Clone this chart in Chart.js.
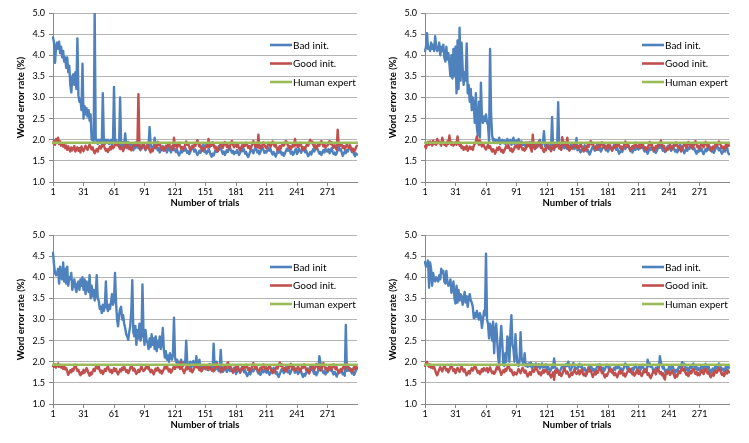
<!DOCTYPE html>
<html>
<head>
<meta charset="utf-8">
<title>Word error rate vs number of trials</title>
<script src="https://cdn.jsdelivr.net/npm/chart.js@4.4.1/dist/chart.umd.min.js"></script>
<style>
  html, body { margin: 0; padding: 0; background: #fff; overflow: hidden; }
  #wrap { position: relative; width: 749px; height: 443px; }
  .panel { position: absolute; width: 374px; height: 221px; }
</style>
</head>
<body>
<div id="wrap">
  <div class="panel" style="left:0;top:0"><canvas id="c1" width="374" height="221"></canvas></div>
  <div class="panel" style="left:372px;top:0"><canvas id="c2" width="374" height="221"></canvas></div>
  <div class="panel" style="left:0;top:222px"><canvas id="c3" width="374" height="221"></canvas></div>
  <div class="panel" style="left:372px;top:222px"><canvas id="c4" width="374" height="221"></canvas></div>
</div>
<script>
// categories: trial numbers 1..300, a label every 30 trials
const trialCount = 300;
const labelEvery = 30;
const trials = Array.from({ length: trialCount }, (_, i) => String(i + 1));
const yMin = 1.0, yMax = 5.0, yStep = 0.5;

// human expert reference level (%)
const humanExpert = 1.93;

// top-left panel
const bad1 = [
  4.42,4.3,3.82,4.2,4.3,4.15,4.32,4.05,4.2,3.95,4.1,3.85,3.95,3.7,3.95,3.6,3.75,3.3,3.12,3.5,3.55,3.3,3.6,3.2,4.4,3.05,2.9,2.95,2.7,3.8,
  2.5,2.8,2.6,2.75,2.55,2.7,2.45,2.6,2.0,2.05,1.95,5.0,2.05,1.95,1.9,2.0,1.95,2.0,1.9,3.1,1.95,1.9,2.0,1.95,2.0,1.9,1.95,2.0,1.85,1.95,
  3.25,1.95,2.0,1.9,1.95,1.85,3.0,1.9,1.8,1.95,1.85,2.15,1.9,1.8,1.95,1.85,1.8,1.9,1.85,1.75,1.9,1.8,1.95,1.85,1.8,1.9,1.75,1.85,1.8,1.9,
  1.85,1.75,1.8,1.9,1.85,2.3,1.9,1.8,1.75,1.85,2.05,1.8,1.85,1.75,1.8,1.7,1.8,1.75,1.85,1.8,1.75,1.8,1.7,1.85,1.75,1.8,1.7,1.78,1.85,1.75,
  1.78,1.71,1.76,1.68,1.63,1.69,1.75,1.7,1.79,1.74,1.81,1.76,1.69,1.73,1.66,1.71,1.78,1.85,1.79,1.72,1.77,1.7,1.64,1.68,1.74,1.69,1.76,1.82,1.9,1.71,
  1.74,1.67,1.71,1.78,1.73,1.65,1.6,1.67,1.63,1.7,1.76,1.71,1.79,1.85,1.77,1.81,1.73,1.67,1.72,1.64,1.69,1.76,1.71,1.78,1.82,1.75,1.69,1.74,1.66,1.71,
  1.69,1.76,1.7,1.64,1.69,1.77,1.73,1.81,1.75,1.67,1.71,1.63,1.59,1.66,1.72,1.78,1.74,1.68,1.75,1.82,1.77,1.7,1.74,1.66,1.71,1.79,1.84,1.76,1.69,1.73,
  1.7,1.76,1.81,1.74,1.78,1.7,1.65,1.71,1.66,1.6,1.67,1.74,1.69,1.76,1.72,1.65,1.69,1.62,1.67,1.73,1.79,1.74,1.8,1.73,1.67,1.72,1.64,1.68,1.75,1.79,
  1.66,1.72,1.79,1.74,1.69,1.76,1.82,1.76,1.7,1.75,1.67,1.61,1.66,1.71,1.65,1.73,1.78,1.72,1.77,1.83,1.79,1.73,1.67,1.71,1.64,1.69,1.76,1.7,1.78,1.73,
  1.72,1.78,1.68,1.74,1.8,1.72,1.66,1.7,1.64,1.68,1.76,1.83,1.75,1.78,1.7,1.62,1.67,1.73,1.68,1.76,1.72,1.8,1.86,1.78,1.71,1.74,1.66,1.61,1.68,1.65
];
const good1 = [
  1.92,1.98,1.88,2.02,1.95,2.05,1.9,1.96,1.86,1.92,1.84,1.9,1.8,1.86,1.76,1.84,1.78,1.72,1.82,1.75,1.8,1.85,1.72,1.78,1.82,1.74,1.8,1.7,1.84,1.78,
  1.73,1.79,1.86,1.81,1.76,1.83,1.89,1.83,1.77,1.82,1.74,1.68,1.73,1.78,1.72,1.8,1.85,1.79,1.84,1.9,1.86,1.8,1.74,1.78,1.71,1.76,1.83,1.77,1.85,1.8,
  1.83,1.89,1.94,1.87,1.91,1.83,1.78,1.84,1.79,1.73,1.8,1.87,1.82,1.89,1.85,1.78,1.82,1.75,1.8,1.86,1.92,1.87,1.93,1.86,3.08,1.85,1.77,1.81,1.88,1.92,
  1.84,1.77,1.81,1.88,1.83,1.75,1.7,1.77,1.73,1.8,1.86,1.81,1.89,1.95,1.87,1.91,1.83,1.77,1.82,1.74,1.79,1.86,1.81,1.88,1.92,1.85,1.79,1.84,1.76,2.05,
  1.85,1.91,1.81,1.87,1.93,1.85,1.79,1.83,1.77,1.81,1.89,1.96,1.88,1.91,1.83,1.75,1.8,1.86,1.81,1.89,1.85,1.93,1.99,1.91,1.84,1.87,1.79,1.74,1.81,1.78,
  1.82,1.89,1.83,2.02,1.82,1.9,1.86,1.94,1.88,1.8,1.84,1.76,1.72,1.79,1.85,1.91,1.87,1.81,1.88,1.95,1.9,1.83,1.87,1.79,1.84,1.92,1.97,1.89,1.82,1.86,
  1.9,1.83,1.88,1.8,1.75,1.81,1.87,1.82,1.91,1.86,1.93,1.88,1.81,1.85,1.78,1.83,1.9,1.97,1.91,1.84,1.89,1.82,2.12,1.8,1.86,1.81,1.88,1.94,1.87,1.83,
  1.8,1.86,1.93,1.88,1.83,1.9,1.96,1.9,1.84,1.89,1.81,1.75,1.8,1.85,1.79,1.87,1.92,1.86,1.91,1.97,1.93,1.87,1.81,1.85,1.78,1.83,1.9,1.84,2.02,1.87,
  1.89,1.82,1.86,1.93,1.88,1.8,1.75,1.82,1.78,1.85,1.91,1.86,1.94,2.0,1.92,1.96,1.88,1.82,1.87,1.79,1.84,1.91,1.86,1.93,1.97,1.9,1.84,1.89,1.81,1.86,
  1.86,1.92,1.97,1.9,1.94,1.86,1.81,1.87,1.82,1.76,2.24,1.9,1.85,1.92,1.88,1.81,1.85,1.78,1.83,1.89,1.86,1.81,1.87,1.8,1.74,1.79,1.71,1.75,1.82,1.86
];

// top-right panel
const bad2 = [
  4.1,4.2,4.52,4.15,4.2,4.1,4.3,4.15,4.25,4.1,4.45,4.2,4.1,4.15,4.3,4.0,4.2,4.1,4.25,3.95,3.85,4.2,3.9,4.05,3.8,3.5,4.0,3.45,4.15,3.5,
  4.2,3.1,4.35,3.2,4.65,3.4,4.3,3.7,3.3,3.6,3.4,4.28,3.1,3.3,2.9,3.2,2.7,3.0,2.8,2.4,3.1,2.3,2.1,2.9,2.05,3.35,2.5,2.4,2.55,2.45,
  2.6,2.4,2.35,1.95,4.15,2.6,2.1,1.98,2.02,1.95,2.0,1.92,1.98,2.05,1.9,1.96,2.0,1.92,1.98,1.9,1.95,2.02,1.9,1.96,2.0,1.88,1.94,2.05,1.9,1.95,
  1.98,1.9,2.02,1.94,1.85,1.96,1.88,1.92,1.86,1.94,1.82,1.9,1.86,1.95,1.8,1.88,1.84,1.92,1.86,1.8,1.9,1.84,1.95,2.0,1.82,1.88,1.94,2.2,1.86,1.8,
  1.84,1.9,1.78,1.86,1.82,2.54,1.8,1.76,1.88,1.84,1.9,2.89,1.82,1.86,1.78,1.84,1.9,1.8,1.86,1.82,1.78,1.88,1.84,1.8,1.9,1.82,1.86,1.78,1.84,2.04,
  1.75,1.82,1.76,1.7,1.75,1.83,1.79,1.87,1.81,1.73,1.77,1.69,1.65,1.72,1.78,1.84,1.8,1.74,1.81,1.88,1.83,1.76,1.8,1.72,1.77,1.85,1.9,1.82,1.75,1.79,
  1.72,1.78,1.85,1.8,1.75,1.82,1.88,1.82,1.76,1.81,1.73,1.67,1.72,1.77,1.71,1.79,1.84,1.78,1.83,1.89,1.85,1.79,1.73,1.77,1.7,1.75,1.82,1.76,1.84,1.79,
  1.77,1.83,1.88,1.81,1.85,1.77,1.72,1.78,1.73,1.67,1.74,1.81,1.76,1.83,1.79,1.72,1.76,1.69,1.74,1.8,1.86,1.81,1.87,1.8,1.74,1.79,1.71,1.75,1.82,1.86,
  1.78,1.84,1.74,1.8,1.86,1.78,1.72,1.76,1.7,1.74,1.82,1.89,1.81,1.84,1.76,1.68,1.73,1.79,1.74,1.82,1.78,1.86,1.92,1.84,1.77,1.8,1.72,1.67,1.74,1.71,
  1.81,1.74,1.79,1.71,1.66,1.72,1.78,1.73,1.82,1.77,1.84,1.79,1.72,1.76,1.69,1.74,1.81,1.88,1.82,1.75,1.8,1.73,1.67,1.71,1.77,1.72,1.79,1.85,1.7,1.66
];
const good2 = [
  1.85,1.8,1.9,1.95,1.88,1.96,1.92,1.86,1.98,1.9,1.94,1.88,2.02,1.92,1.96,1.9,1.86,2.05,1.94,1.88,1.92,1.85,1.96,1.9,2.1,1.92,1.88,1.94,1.86,1.9,
  1.94,1.88,2.08,1.92,1.86,1.9,1.8,1.84,1.76,1.82,1.78,1.86,1.74,1.8,1.84,1.78,1.82,1.76,1.86,1.9,1.96,2.08,1.94,1.88,1.98,1.9,1.84,1.92,1.86,1.8,
  1.77,1.83,1.88,1.81,1.85,1.77,1.72,1.78,1.73,1.67,1.74,1.81,1.76,1.83,1.79,1.72,1.76,1.69,1.74,1.8,1.86,1.81,1.87,1.8,1.74,1.79,1.71,1.75,1.82,1.86,
  1.82,1.88,1.78,1.84,1.9,1.82,1.76,1.8,1.74,1.78,1.86,1.93,1.85,1.88,1.8,1.72,2.12,1.83,1.78,1.86,1.82,1.9,1.96,1.88,1.81,1.84,1.76,1.71,1.78,1.75,
  1.88,1.81,1.86,1.78,1.73,1.79,1.85,1.8,1.89,1.84,1.91,1.86,1.79,1.83,1.76,2.06,1.88,1.95,1.89,1.82,2.05,1.8,1.74,1.78,1.84,1.79,1.86,1.92,1.85,1.81,
  1.86,1.79,1.83,1.9,1.85,1.77,1.72,1.79,1.75,1.82,1.88,1.83,1.91,1.97,1.89,1.93,1.85,1.79,1.84,1.76,1.81,1.88,1.83,1.9,1.94,1.87,1.81,1.86,1.78,1.83,
  1.89,1.82,1.87,1.79,1.74,1.8,1.86,1.81,1.9,1.85,1.92,1.87,1.8,1.84,1.77,1.82,1.89,1.96,1.9,1.83,1.88,1.81,1.75,1.79,1.85,1.8,1.87,1.93,1.86,1.82,
  1.84,1.9,1.8,1.86,1.92,1.84,1.78,1.82,1.76,1.8,1.88,1.95,1.87,1.9,1.82,1.74,1.79,1.85,1.8,1.88,1.84,1.92,1.98,1.9,1.83,1.86,1.78,1.73,1.8,1.77,
  1.82,1.89,1.83,1.77,1.82,1.9,1.86,1.94,1.88,1.8,1.84,1.76,1.72,1.79,1.85,1.91,1.87,1.81,1.88,1.95,1.9,1.83,1.87,1.79,1.84,1.92,1.97,1.89,1.82,1.86,
  1.79,1.85,1.92,1.87,1.82,1.89,1.95,1.89,1.83,1.88,1.8,1.74,1.79,1.84,1.78,1.86,1.91,1.85,1.9,1.96,1.92,1.86,1.8,1.84,1.77,1.82,1.89,1.83,1.91,1.86
];

// bottom-left panel
const bad3 = [
  4.58,4.3,4.1,4.05,4.1,4.2,3.85,4.25,4.0,3.95,4.35,3.9,4.2,3.85,4.25,3.8,4.0,3.95,4.1,3.7,3.85,3.95,3.75,3.65,3.85,3.9,3.7,3.95,3.8,4.0,
  3.7,3.95,3.6,3.9,3.75,3.65,4.05,3.5,3.8,3.55,3.7,3.45,3.6,4.05,3.5,3.45,3.25,3.3,3.15,3.35,3.2,3.3,3.9,3.3,3.2,3.35,3.25,3.4,3.6,3.35,
  3.45,4.1,3.4,3.0,2.84,3.1,3.25,3.3,3.0,3.1,2.9,2.8,2.65,2.6,2.52,2.7,2.85,3.2,3.93,2.7,2.6,2.85,2.4,2.75,2.55,2.9,2.5,2.6,3.83,2.7,
  2.4,2.75,2.5,2.45,2.3,2.55,2.35,2.65,2.4,2.55,2.3,2.6,2.25,2.5,2.35,2.6,2.3,2.45,2.8,2.3,2.1,2.25,2.05,2.15,2.0,2.2,2.1,2.05,2.2,3.04,
  2.1,2.0,2.05,1.95,2.0,1.9,2.05,1.95,1.9,2.0,1.95,2.5,2.0,1.9,1.92,2.0,1.85,1.95,2.02,1.9,1.88,2.13,1.9,1.85,2.05,1.86,1.92,1.84,1.9,1.86,
  1.82,1.9,1.86,1.8,1.95,1.84,1.88,1.8,2.43,1.86,1.82,2.0,1.84,1.78,1.86,2.28,1.82,1.76,1.86,1.8,1.84,1.76,1.82,1.9,1.78,1.84,1.8,1.76,1.86,1.82,
  1.71,1.77,1.84,1.79,1.74,1.81,1.87,1.81,1.75,1.8,1.72,1.66,1.71,1.76,1.7,1.78,1.83,1.77,1.82,1.88,1.84,1.78,1.72,1.76,1.69,1.74,1.81,1.75,1.83,1.78,
  1.74,1.81,1.75,1.69,1.74,1.82,1.78,1.86,1.8,1.72,1.76,1.68,1.64,1.71,1.77,1.83,1.79,1.73,1.8,1.87,1.82,1.75,1.79,1.71,1.76,1.84,1.89,1.81,1.74,1.78,
  1.78,1.71,1.75,1.82,1.77,1.69,1.64,1.71,1.67,1.74,1.8,1.75,1.83,1.89,1.81,1.85,1.77,1.71,1.76,1.68,1.73,1.8,2.13,1.98,1.86,1.79,1.73,1.78,1.7,1.75,
  1.75,1.81,1.86,1.79,1.83,1.75,1.7,1.76,1.71,1.65,1.72,1.79,1.74,1.81,1.77,1.7,1.74,1.67,2.87,1.78,1.84,1.79,1.85,1.78,1.72,1.77,1.69,1.73,1.8,1.84
];
const good3 = [
  1.9,1.88,1.94,1.86,1.9,1.96,1.88,1.92,1.86,1.9,1.83,1.9,1.82,1.85,1.77,1.69,1.74,1.8,1.75,1.83,1.79,1.87,1.93,1.85,1.78,1.81,1.73,1.68,1.75,1.72,
  1.81,1.74,1.78,1.85,1.8,1.72,1.67,1.74,1.7,1.77,1.83,1.78,1.86,1.92,1.84,1.88,1.8,1.74,1.79,1.71,1.76,1.83,1.78,1.85,1.89,1.82,1.76,1.81,1.73,1.78,
  1.85,1.78,1.83,1.75,1.7,1.76,1.82,1.77,1.86,1.81,1.88,1.83,1.76,1.8,1.73,1.78,1.85,1.92,1.86,1.79,1.84,1.77,1.71,1.75,1.81,1.76,1.83,1.89,1.82,1.78,
  1.8,1.86,1.91,1.84,1.88,1.8,1.75,1.81,1.76,1.7,1.77,1.84,1.79,1.86,1.82,1.75,1.79,1.72,1.77,1.83,1.89,1.84,1.9,1.83,1.77,1.82,1.74,1.78,1.85,1.89,
  1.83,1.89,1.94,1.87,1.91,1.83,2.0,1.84,1.79,1.73,1.8,1.87,1.82,1.89,1.85,1.78,1.82,1.75,1.8,1.86,1.92,1.87,1.93,1.86,1.8,1.85,1.77,1.81,1.88,1.92,
  1.85,1.91,1.81,1.87,1.93,1.85,1.79,1.83,1.77,1.81,1.89,1.96,1.88,1.91,1.83,1.75,1.8,1.86,1.81,1.89,1.85,1.93,1.99,1.91,1.84,1.87,1.79,1.74,1.81,1.78,
  1.9,1.83,1.88,1.8,1.75,1.81,1.87,1.82,1.91,1.86,1.93,1.88,1.81,1.85,1.78,1.83,1.9,1.97,1.91,1.84,1.89,1.82,1.76,1.8,1.86,1.81,1.88,1.94,1.87,1.83,
  1.87,1.8,1.84,1.91,1.86,1.78,1.73,1.8,1.76,1.83,1.89,1.84,1.92,1.98,1.9,1.94,1.86,1.8,1.85,1.77,1.82,1.89,1.84,1.91,1.95,1.88,1.82,1.87,1.79,1.84,
  1.82,1.89,1.83,1.77,1.82,1.9,1.86,1.94,1.88,1.8,1.84,1.76,1.72,1.79,1.85,1.91,1.87,1.81,1.88,1.95,1.9,1.83,1.87,1.79,1.84,1.92,1.97,1.89,1.82,1.86,
  1.78,1.84,1.91,1.86,1.81,1.88,1.94,1.88,1.82,1.87,1.79,1.73,1.78,1.83,1.77,1.85,1.9,1.84,1.89,1.95,1.91,1.85,1.79,1.83,1.76,1.81,1.88,1.82,1.9,1.85
];

// bottom-right panel
const bad4 = [
  4.36,4.25,4.3,4.4,3.75,4.35,4.2,3.8,4.1,3.95,3.9,4.0,3.95,3.9,4.05,3.95,4.2,4.1,4.15,3.9,3.85,4.15,3.9,3.8,3.85,3.95,3.63,3.7,3.9,3.5,
  3.38,3.8,3.4,3.7,3.45,3.6,3.55,3.35,3.5,3.65,3.4,3.55,3.3,3.5,3.6,3.45,3.4,3.3,3.03,3.15,3.05,3.2,3.1,3.0,3.15,3.05,2.8,3.0,3.2,3.1,
  4.56,3.0,2.9,2.55,2.9,2.8,2.5,2.95,2.2,2.7,2.9,2.5,2.1,1.9,2.5,2.85,2.45,1.95,1.9,2.2,2.0,2.6,2.5,2.0,2.7,3.1,2.4,2.3,2.0,2.65,
  2.2,1.95,1.9,2.0,2.7,2.1,2.0,1.92,2.2,1.9,1.95,1.88,1.96,1.9,1.98,1.86,1.94,1.9,1.85,1.96,1.9,1.88,1.94,1.84,1.9,1.96,1.86,1.92,1.88,1.94,
  1.82,1.89,1.83,1.77,1.82,1.9,1.86,2.08,1.88,1.8,1.84,1.76,1.72,1.79,1.85,1.91,1.87,1.81,1.88,1.95,1.9,2.0,1.87,1.79,1.84,1.92,1.97,1.89,1.82,1.86,
  1.84,1.9,1.95,1.88,1.92,1.84,1.79,1.85,1.8,1.74,1.81,1.88,1.83,1.9,1.86,1.79,1.83,1.76,1.81,1.87,1.93,1.88,1.94,1.87,1.81,1.86,1.78,1.82,1.89,1.93,
  1.89,1.82,1.87,1.79,1.74,1.8,1.86,1.81,1.9,1.85,1.92,1.87,1.8,1.84,1.77,1.82,1.89,1.96,1.9,1.83,1.88,1.81,1.75,1.79,1.85,1.8,1.87,1.93,1.86,1.82,
  1.85,1.91,1.81,1.87,1.93,1.85,1.79,1.83,1.77,2.05,1.89,1.96,1.88,1.91,1.83,1.75,1.8,1.86,1.81,1.89,1.85,2.13,1.99,1.91,1.84,1.87,1.79,1.74,1.81,1.78,
  1.88,1.81,1.85,1.92,1.87,1.79,1.74,1.81,1.77,1.84,1.9,1.85,1.93,1.99,1.91,1.95,1.87,1.81,1.86,1.78,1.83,1.9,1.85,1.92,1.96,1.89,1.83,1.88,1.8,1.85,
  1.79,1.85,1.92,1.87,1.82,1.89,1.95,1.89,1.83,1.88,1.8,1.74,1.79,1.84,1.78,1.86,1.91,1.85,1.9,1.96,1.92,1.86,1.8,1.84,1.77,1.82,1.89,1.83,1.91,1.86
];
const good4 = [
  1.9,1.96,2.0,1.92,1.88,1.94,1.86,1.9,1.84,1.88,1.8,1.72,1.68,1.75,1.81,1.87,1.83,1.77,1.84,1.91,1.86,1.79,1.83,1.75,1.8,1.88,1.93,1.85,1.78,1.82,
  1.73,1.79,1.86,1.81,1.76,1.83,1.89,1.83,1.77,1.82,1.74,1.68,1.73,1.78,1.72,1.8,1.85,1.79,1.84,1.9,1.86,1.8,1.74,1.78,1.71,1.76,1.83,1.77,1.85,1.8,
  1.79,1.85,1.75,1.81,1.87,1.79,1.73,1.77,1.71,1.75,1.83,1.9,1.82,1.85,1.77,1.69,1.74,1.8,1.75,1.83,1.79,1.87,1.93,1.85,1.78,1.81,1.73,1.68,1.75,1.72,
  1.7,1.76,1.83,1.78,1.73,1.8,1.86,1.8,1.74,1.79,1.71,1.65,1.7,1.75,1.69,1.77,1.82,1.76,1.81,1.87,1.83,1.77,1.71,1.75,1.68,1.73,1.8,1.74,1.82,1.77,
  1.78,1.71,1.76,1.68,1.63,1.69,1.75,1.57,1.79,1.74,1.81,1.76,1.69,1.73,1.66,1.71,1.78,1.85,1.79,1.72,1.77,1.7,1.64,1.68,1.74,1.69,1.76,1.82,1.75,1.71,
  1.74,1.8,1.7,1.76,1.82,1.74,1.68,1.72,1.66,1.7,1.78,1.85,1.77,1.8,1.72,1.64,1.69,1.75,1.7,1.78,1.74,1.82,1.88,1.8,1.73,1.76,1.68,1.63,1.7,1.67,
  1.73,1.79,1.84,1.77,1.81,1.73,1.68,1.74,1.69,1.63,1.7,1.77,1.72,1.79,1.75,1.68,1.72,1.65,1.7,1.76,1.82,1.77,1.83,1.76,1.7,1.75,1.67,1.71,1.78,1.82,
  1.71,1.78,1.72,1.66,1.71,1.79,1.75,1.83,1.77,1.69,1.73,1.65,1.61,1.68,1.74,1.8,1.76,1.7,1.77,1.84,1.79,1.72,1.76,1.68,1.73,1.62,1.58,1.78,1.71,1.75,
  1.76,1.69,1.73,1.8,1.75,1.67,1.62,1.69,1.65,1.72,1.78,1.73,1.81,1.87,1.79,1.83,1.75,1.69,1.74,1.66,1.71,1.78,1.73,1.8,1.84,1.77,1.71,1.76,1.68,1.73,
  1.68,1.74,1.81,1.76,1.71,1.78,1.84,1.78,1.72,1.77,1.69,1.63,1.68,1.73,1.67,1.75,1.8,1.74,1.79,1.85,1.81,1.75,1.69,1.73,1.66,1.71,1.78,1.72,1.8,1.75
];

const legendDot = ['Bad init.', 'Good init.', 'Human expert'];
const legendNoDot = ['Bad init', 'Good init.', 'Human expert'];

const BLUE = '#4F81BD', RED = '#C0504D', GREEN = '#9BBB59';
const GRID = '#B4B4B4', AXIS = '#888888';
const FONT = 'Lato, "Open Sans", sans-serif';

Chart.defaults.font.family = FONT;
Chart.defaults.color = '#000';

// Excel style legend drawn inside the plot, on the right
const insideLegend = {
  id: 'insideLegend',
  afterDraw(chart) {
    const { ctx, chartArea } = chart;
    const x0 = chartArea.right - 87;
    let y = chartArea.top + 32;
    ctx.save();
    ctx.font = '10px ' + FONT;
    ctx.textBaseline = 'middle';
    chart.data.datasets.forEach(ds => {
      ctx.strokeStyle = ds.borderColor;
      ctx.lineWidth = 2.6;
      ctx.beginPath();
      ctx.moveTo(x0, y);
      ctx.lineTo(x0 + 22, y);
      ctx.stroke();
      ctx.fillStyle = '#000';
      ctx.fillText(ds.label, x0 + 23, y + 0.5);
      y += 18.5;
    });
    ctx.restore();
  }
};

function makeChart(id, bad, good, names) {
  const human = trials.map(() => humanExpert);
  return new Chart(document.getElementById(id), {
    type: 'line',
    data: {
      labels: trials,
      datasets: [
        { label: names[0], data: bad, borderColor: BLUE, order: 3 },
        { label: names[1], data: good, borderColor: RED, order: 2 },
        { label: names[2], data: human, borderColor: GREEN, order: 1 }
      ]
    },
    options: {
      responsive: false,
      animation: false,
      events: [],
      layout: { padding: { top: 13, right: 17, left: 0, bottom: 0 } },
      elements: {
        point: { radius: 0 },
        line: { borderWidth: 2.4, tension: 0, borderJoinStyle: 'round', borderCapStyle: 'round' }
      },
      plugins: { legend: { display: false }, tooltip: { enabled: false } },
      scales: {
        x: {
          offset: false,
          afterBuildTicks: s => { s.ticks = s.ticks.filter((t, i) => i % labelEvery === 0); },
          afterFit: s => { s.height = 39; },
          grid: { drawOnChartArea: false, drawTicks: true, tickLength: 4, color: AXIS },
          border: { color: AXIS, width: 1 },
          ticks: {
            autoSkip: false, maxRotation: 0, padding: 1,
            font: { size: 9 },
            callback: function (v) { return this.getLabelForValue(v); }
          },
          title: {
            display: true, text: 'Number of trials',
            font: { size: 9.5, weight: 'bold' },
            padding: { top: 0, bottom: 12 }
          }
        },
        y: {
          min: yMin, max: yMax,
          afterFit: s => { s.width = 53; },
          grid: { color: GRID, tickLength: 4, tickColor: AXIS },
          border: { color: AXIS, width: 1 },
          ticks: {
            stepSize: yStep, padding: 4,
            font: { size: 9 },
            callback: v => v.toFixed(1)
          },
          title: {
            display: true, text: 'Word error rate (%)',
            font: { size: 9.5, weight: 'bold' },
            padding: { top: 15, bottom: 0 }
          }
        }
      }
    },
    plugins: [insideLegend]
  });
}

makeChart('c1', bad1, good1, legendDot);
makeChart('c2', bad2, good2, legendDot);
makeChart('c3', bad3, good3, legendNoDot);
makeChart('c4', bad4, good4, legendDot);
</script>
</body>
</html>
